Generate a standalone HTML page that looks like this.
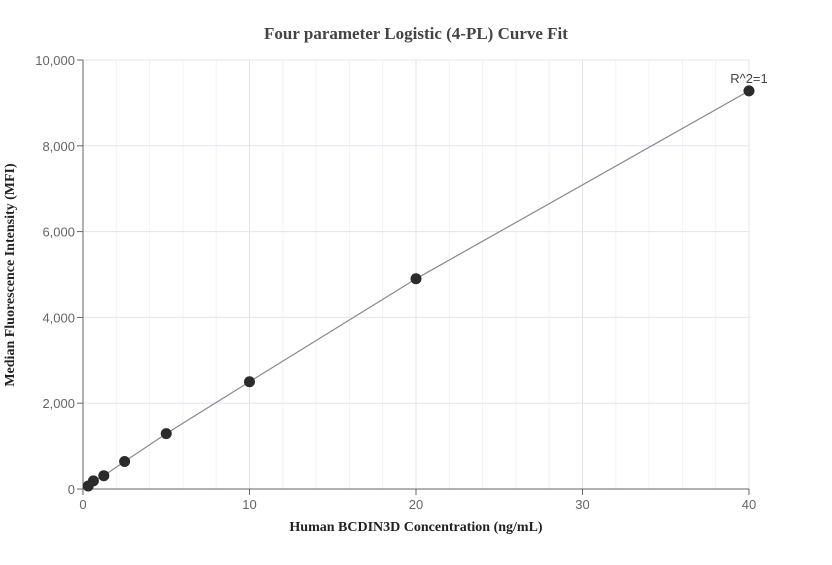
<!DOCTYPE html>
<html><head><meta charset="utf-8"><style>
body{margin:0;background:#fff;font-family:"Liberation Sans",sans-serif}
</style></head><body>
<svg id="chart" width="832" height="560" xmlns="http://www.w3.org/2000/svg">
<text x="416" y="39" text-anchor="middle" font-family="Liberation Serif" font-weight="bold" font-size="17" fill="#444">Four parameter Logistic (4-PL) Curve Fit</text>
<g id="grid"></g><g id="axes"></g><g id="marks"></g>
<text x="416" y="531" text-anchor="middle" font-family="Liberation Serif" font-weight="bold" font-size="14" fill="#222">Human BCDIN3D Concentration (ng/mL)</text>
<text transform="translate(14,275) rotate(-90)" text-anchor="middle" font-family="Liberation Serif" font-weight="bold" font-size="14" fill="#222">Median Fluorescence Intensity (MFI)</text>
</svg>
<script>
const conc=[0.3125,0.625,1.25,2.5,5,10,20,40];
const mfi=[70,190,310,640,1290,2500,4900,9280];
const xTicks=[0,10,20,30,40];
const yTicks=[0,2000,4000,6000,8000,10000];
const yTickLabels=["0","2,000","4,000","6,000","8,000","10,000"];
const r2Label="R^2=1";
const NS="http://www.w3.org/2000/svg";
const X=v=>83+v/40*666, Y=v=>489-v/10000*429;
function mk(p,t,a){const e=document.createElementNS(NS,t);for(const k in a)e.setAttribute(k,a[k]);document.getElementById(p).appendChild(e);return e;}
for(let v=2;v<=40;v+=2){const l=mk('grid','line',{x1:X(v),x2:X(v),y1:60,y2:489,stroke:v%10?'#f0f2f8':'#e2e5ef'});
}
yTicks.forEach((v,i)=>{if(v>0){const l=mk('grid','line',{x1:83,x2:749,y1:Y(v),y2:Y(v),stroke:'#e2e5ef'});
}
const tk=mk('axes','line',{x1:77,x2:83,y1:Y(v),y2:Y(v),stroke:'#666'});
const t=mk('axes','text',{x:75,y:Y(v)+5,'text-anchor':'end','font-size':13,fill:'#666'});t.textContent=yTickLabels[i];
});
xTicks.forEach(v=>{const tk=mk('axes','line',{x1:X(v),x2:X(v),y1:489,y2:495,stroke:'#666'});
const t=mk('axes','text',{x:X(v),y:509,'text-anchor':'middle','font-size':13,fill:'#666'});t.textContent=v;
});
const ax=mk('axes','path',{d:`M83,60V489H749`,stroke:'#666',fill:'none'});
const fit=mk('marks','polyline',{points:conc.map((c,i)=>X(c)+','+Y(mfi[i])).join(' '),fill:'none',stroke:'#888','stroke-width':1.2});

conc.forEach((c,i)=>{const p=mk('marks','circle',{cx:X(c),cy:Y(mfi[i]),r:5.5,fill:'#2b2b2b'});
});
const last=conc.length-1;
const r=mk('marks','text',{x:X(conc[last]),y:Y(mfi[last])-8,'text-anchor':'middle','font-size':13,fill:'#444'});r.textContent=r2Label;

</script>
</body></html>
